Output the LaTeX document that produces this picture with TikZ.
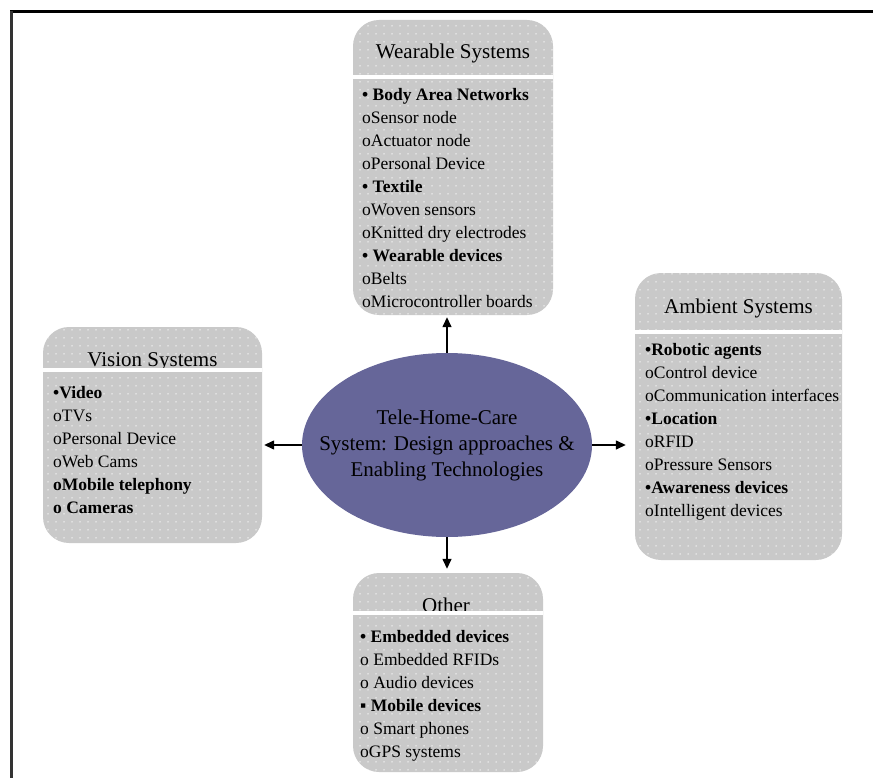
\documentclass[tikz,border=0pt]{standalone}
\usepackage{fontspec}
\setmainfont{Liberation Serif}
\usetikzlibrary{arrows.meta,shapes.geometric,patterns.meta,calc}
\definecolor{boxgray}{HTML}{C9C9C9}
\definecolor{ellblue}{HTML}{666699}
\tikzdeclarepattern{name=wdots, type=uncolored,
  bottom left={(-1pt,-1pt)}, top right={(7pt,7pt)}, tile size={(8pt,8pt)},
  code={\fill (0pt,0pt) circle (0.75pt);}}
\newcommand\firstlinestrut{\rule{0pt}{16pt}}
\begin{document}
\begin{tikzpicture}[x=1pt,y=-1pt,
  panel/.style={draw=none, fill=boxgray, rounded corners=26pt, inner sep=0pt,
    postaction={pattern=wdots, pattern color=white!85!boxgray}},
  ttl/.style={font=\fontsize{21}{26}\selectfont, inner sep=0pt},
  list/.style={font=\fontsize{17.5}{23}\selectfont, align=left, inner sep=0pt, anchor=north west},
  sep/.style={white, line width=4pt},
  conn/.style={-{Triangle[length=10pt,width=9pt]}, line width=1.4pt}]
\useasboundingbox (0,0) rectangle (873,778);
% frame
\draw[line width=3pt] (10,11.5) -- (873,11.5);
\draw[line width=2.3pt, black!80] (11.5,11.5) -- (11.5,778);

% Wearable Systems
\node[panel, minimum width=200pt, minimum height=295pt] (wear) at (453,167.5) {};
\node[ttl, anchor=base] (wtitle) at (453,59) {Wearable Systems};
\draw[sep] (353,77) -- (553,77);
\node[list] (wtext) at (362,84) {\firstlinestrut\textbf{• Body Area Networks}\\
oSensor node\\
oActuator node\\
oPersonal Device\\
\textbf{• Textile}\\
oWoven sensors\\
oKnitted dry electrodes\\
\textbf{• Wearable devices}\\
oBelts\\
oMicrocontroller boards};

% Ambient Systems
\node[panel, minimum width=207pt, minimum height=287pt] (amb) at (738.5,416.5) {};
\node[ttl, anchor=base] (atitle) at (738.5,313) {Ambient Systems};
\draw[sep] (635,332) -- (842,332);
\node[list] (atext) at (645,339) {\firstlinestrut\textbf{•Robotic agents}\\
oControl device\\
oCommunication interfaces\\
\textbf{•Location}\\
oRFID\\
oPressure Sensors\\
\textbf{•Awareness devices}\\
oIntelligent devices};

% Vision Systems
\node[panel, minimum width=219pt, minimum height=216pt] (vis) at (152.5,435) {};
\node[ttl, anchor=base] (vtitle) at (152.5,366) {Vision Systems};
\draw[sep] (43,369.5) -- (262,369.5);
\node[list] (vtext) at (53,382) {\firstlinestrut\textbf{•Video}\\
oTVs\\
oPersonal Device\\
oWeb Cams\\
\textbf{oMobile telephony}\\
\textbf{o Cameras}};

% Other
\node[panel, minimum width=190pt, minimum height=199pt] (oth) at (448,672.5) {};
\node[ttl, anchor=base] (otitle) at (446,612) {Other};
\draw[sep] (353,612.5) -- (543,612.5);
\node[list] (otext) at (360,626) {\firstlinestrut\textbf{• Embedded devices}\\
o Embedded RFIDs\\
o Audio devices\\
\textbf{▪ Mobile devices}\\
o Smart phones\\
oGPS systems};

% centre ellipse
\node[ellipse, fill=ellblue, minimum width=290pt, minimum height=184pt, inner sep=0pt] (ell) at (447,445) {};
\node[align=center, inner sep=0pt, font=\fontsize{21}{26}\selectfont] (elltext) at (ell.center)
  {Tele-Home-Care\\System: Design approaches \&\\Enabling Technologies};

% connectors
\draw[conn, shorten >=2pt] (ell.north) -- (ell.north |- wear.south);
\draw[conn, shorten >=4pt] (ell.south) -- (ell.south |- oth.north);
\draw[conn, shorten >=2pt] (ell.west) -- (ell.west -| vis.east);
\draw[conn, shorten >=9pt] (ell.east) -- (ell.east -| amb.west);
\end{tikzpicture}
\end{document}
